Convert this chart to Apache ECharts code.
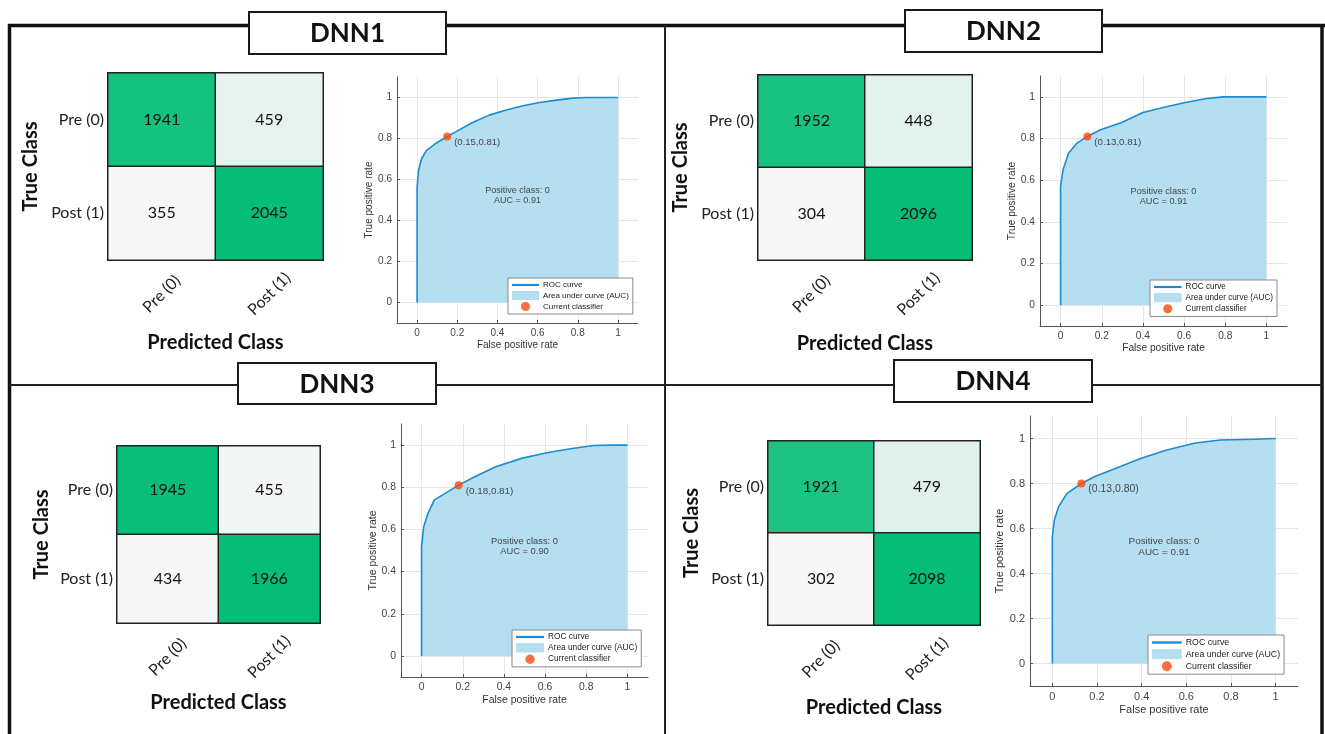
<!DOCTYPE html>
<html>
<head>
<meta charset="utf-8">
<script src="https://cdn.jsdelivr.net/npm/echarts@6/dist/echarts.min.js"></script>
<style>
html, body { margin: 0; padding: 0; background: #fff; }
#main { width: 1325px; height: 734px; }
</style>
</head>
<body>
<div id="main"></div>
<script>
const models = ['DNN1', 'DNN2', 'DNN3', 'DNN4'];
const classNames = ['Pre (0)', 'Post (1)'];

// confusion matrices: rows = true class, cols = predicted class
const cmDNN1 = [[1941, 459], [355, 2045]];
const cmDNN2 = [[1952, 448], [304, 2096]];
const cmDNN3 = [[1945, 455], [434, 1966]];
const cmDNN4 = [[1921, 479], [302, 2098]];

// ROC curves
const fprDNN1 = [0, 0, 0.007, 0.022, 0.046, 0.088, 0.15, 0.196, 0.279, 0.36, 0.444, 0.527, 0.61, 0.693, 0.776, 0.842, 1];
const tprDNN1 = [0, 0.563, 0.644, 0.70, 0.741, 0.773, 0.81, 0.835, 0.879, 0.914, 0.939, 0.96, 0.976, 0.987, 0.997, 1, 1];
const fprDNN2 = [0, 0, 0.012, 0.039, 0.08, 0.13, 0.194, 0.297, 0.4, 0.503, 0.606, 0.71, 0.79, 1];
const tprDNN2 = [0, 0.57, 0.65, 0.73, 0.778, 0.81, 0.842, 0.877, 0.925, 0.95, 0.973, 0.992, 1, 1];
const fprDNN3 = [0, 0, 0.01, 0.031, 0.062, 0.113, 0.18, 0.258, 0.36, 0.485, 0.608, 0.732, 0.835, 0.918, 1];
const tprDNN3 = [0, 0.518, 0.613, 0.676, 0.74, 0.77, 0.81, 0.85, 0.897, 0.937, 0.964, 0.984, 0.998, 1, 1];
const fprDNN4 = [0, 0, 0.009, 0.028, 0.066, 0.13, 0.188, 0.282, 0.395, 0.508, 0.64, 0.753, 0.904, 1];
const tprDNN4 = [0, 0.563, 0.638, 0.697, 0.756, 0.80, 0.83, 0.867, 0.911, 0.948, 0.98, 0.993, 0.997, 1];

// current classifier points
const opDNN1 = [0.15, 0.81];
const opDNN2 = [0.13, 0.81];
const opDNN3 = [0.18, 0.81];
const opDNN4 = [0.13, 0.80];

const aucValues = [0.91, 0.91, 0.90, 0.91];
const positiveClass = 0;
const rocTicks = [0, 0.2, 0.4, 0.6, 0.8, 1];
const notePos = [0.5, 0.52];

const cms = [cmDNN1, cmDNN2, cmDNN3, cmDNN4];
const fprs = [fprDNN1, fprDNN2, fprDNN3, fprDNN4];
const tprs = [tprDNN1, tprDNN2, tprDNN3, tprDNN4];
const ops = [opDNN1, opDNN2, opDNN3, opDNN4];

// panel placement (pixels)
const layout = [
    { box: [249, 12, 197, 42], cm: [108, 73, 215, 187], cmGap: [67, 73], roc: [397, 77, 241, 246], legend: [508, 278], fs: 1 },
    { box: [905, 10, 197, 42], cm: [758, 75, 214, 185], cmGap: [67, 74], roc: [1040, 76, 247, 250], legend: [1150, 280], fs: 1.02 },
    { box: [238, 363, 198, 41], cm: [117, 446, 203, 177], cmGap: [65, 70], roc: [401, 424, 247, 253], legend: [512, 630], fs: 1.04 },
    { box: [894, 360, 198, 42], cm: [768, 441, 212, 184], cmGap: [66, 73], roc: [1030, 416, 268, 270], legend: [1148, 635], fs: 1.1 }
];

const cmFont = 'Lato, "Open Sans", sans-serif';
const rocFont = '"Liberation Sans", Arial, sans-serif';
const lineColor = '#1a8ccf';
const areaColor = '#b5def1';
const dotColor = '#fa4a0c';

let grid = [], xAxis = [], yAxis = [], series = [], visualMap = [], legend = [];
let graphic = [
    { type: 'line', shape: { x1: 8, y1: 25.5, x2: 1325, y2: 25.5 }, style: { stroke: '#111', lineWidth: 3.5 }, z: 1 },
    { type: 'line', shape: { x1: 9.5, y1: 24, x2: 9.5, y2: 734 }, style: { stroke: '#111', lineWidth: 3.5 }, z: 1 },
    { type: 'line', shape: { x1: 1322, y1: 24, x2: 1322, y2: 734 }, style: { stroke: '#111', lineWidth: 3.5 }, z: 1 },
    { type: 'line', shape: { x1: 665, y1: 25, x2: 665, y2: 734 }, style: { stroke: '#222', lineWidth: 2 }, z: 1 },
    { type: 'line', shape: { x1: 9, y1: 385, x2: 1322, y2: 385 }, style: { stroke: '#222', lineWidth: 2 }, z: 1 }
];

models.forEach((name, i) => {
    const L = layout[i];
    const s = L.fs;

    // title box
    graphic.push({
        type: 'rect', z: 10,
        shape: { x: L.box[0], y: L.box[1], width: L.box[2], height: L.box[3] },
        style: { fill: '#fff', stroke: '#1a1a1a', lineWidth: 2 }
    });
    graphic.push({
        type: 'text', z: 11,
        x: L.box[0] + L.box[2] / 2, y: L.box[1] + L.box[3] / 2 + 1,
        style: { text: name, font: 'bold 26px ' + cmFont, fill: '#111', align: 'center', verticalAlign: 'middle' }
    });

    // confusion matrix
    grid.push({ left: L.cm[0], top: L.cm[1], width: L.cm[2], height: L.cm[3] });
    const gCm = grid.length - 1;
    xAxis.push({
        type: 'category', gridIndex: gCm, data: classNames,
        name: 'Predicted Class', nameLocation: 'middle', nameGap: L.cmGap[1],
        nameTextStyle: { fontFamily: cmFont, fontWeight: 'bold', fontSize: 20, color: '#111' },
        axisLine: { show: false }, axisTick: { show: false }, splitLine: { show: false },
        axisLabel: { rotate: 45, align: 'center', verticalAlign: 'middle', margin: 34, fontFamily: cmFont, fontSize: 16, color: '#222' }
    });
    yAxis.push({
        type: 'category', gridIndex: gCm, data: classNames, inverse: true,
        name: 'True Class', nameLocation: 'middle', nameGap: L.cmGap[0], nameRotate: 90,
        nameTextStyle: { fontFamily: cmFont, fontWeight: 'bold', fontSize: 20, color: '#111' },
        axisLine: { show: false }, axisTick: { show: false }, splitLine: { show: false },
        axisLabel: { margin: 4, fontFamily: cmFont, fontSize: 16, color: '#222' }
    });
    const cells = [];
    cms[i].forEach((row, r) => row.forEach((v, c) => cells.push([c, r, v])));
    const flat = cms[i].flat();
    series.push({
        type: 'heatmap', xAxisIndex: gCm, yAxisIndex: gCm, data: cells,
        itemStyle: { borderColor: '#222', borderWidth: 1.5 },
        label: { show: true, fontFamily: cmFont, fontSize: 16, color: '#111', formatter: p => p.value[2] },
        emphasis: { disabled: true }
    });
    visualMap.push({
        type: 'continuous', show: false, seriesIndex: series.length - 1, dimension: 2,
        min: Math.min(...flat), max: Math.max(...flat),
        inRange: { color: ['#f7f7f7', '#06bd77'] }
    });

    // ROC curve
    grid.push({ left: L.roc[0], top: L.roc[1], width: L.roc[2], height: L.roc[3] });
    const gRoc = grid.length - 1;
    const axisCommon = {
        type: 'value', gridIndex: gRoc, min: -0.1, max: 1.1,
        nameLocation: 'middle',
        nameTextStyle: { fontFamily: rocFont, fontSize: 10 * s, color: '#333' },
        axisLine: { onZero: false, lineStyle: { color: '#555', width: 1 } },
        axisTick: { inside: true, length: 3, customValues: rocTicks, lineStyle: { color: '#555' } },
        axisLabel: { customValues: rocTicks, margin: 5, fontFamily: rocFont, fontSize: 10 * s, color: '#444',
            formatter: v => String(+v.toFixed(1)) },
        splitLine: { show: true, lineStyle: { color: '#e6e6e6', width: 1 } }
    };
    xAxis.push(Object.assign({}, axisCommon, { name: 'False positive rate', nameGap: 17 * s }));
    yAxis.push(Object.assign({}, axisCommon, { name: 'True positive rate', nameGap: 20 * s }));

    const pts = fprs[i].map((x, k) => [x, tprs[i][k]]);
    series.push({
        name: 'Area under curve (AUC)', type: 'line', xAxisIndex: gRoc, yAxisIndex: gRoc,
        data: pts, symbol: 'none', color: areaColor,
        lineStyle: { width: 0 }, areaStyle: { color: areaColor, opacity: 1 },
        silent: true, z: 2
    });
    series.push({
        name: 'ROC curve', type: 'line', xAxisIndex: gRoc, yAxisIndex: gRoc,
        data: pts, symbol: 'none', color: lineColor,
        lineStyle: { color: lineColor, width: 1.6, join: 'round' }, silent: true, z: 3
    });
    series.push({
        name: 'Current classifier', type: 'scatter', xAxisIndex: gRoc, yAxisIndex: gRoc,
        data: [ops[i]], symbolSize: 8, color: dotColor, z: 4,
        label: {
            show: true, position: 'right', distance: 3, offset: [0, 6],
            fontFamily: rocFont, fontSize: 9.5 * s, color: '#222',
            formatter: p => '(' + p.value[0].toFixed(2) + ',' + p.value[1].toFixed(2) + ')'
        }
    });
    series.push({
        type: 'scatter', xAxisIndex: gRoc, yAxisIndex: gRoc,
        data: [notePos], symbolSize: 1, itemStyle: { color: 'transparent' }, silent: true, z: 5,
        label: {
            show: true, position: 'inside', fontFamily: rocFont, fontSize: 9 * s, lineHeight: 10 * s,
            color: '#222', align: 'center',
            formatter: () => 'Positive class: ' + positiveClass + '\nAUC = ' + aucValues[i].toFixed(2)
        }
    });

    legend.push({
        left: L.legend[0], top: L.legend[1], orient: 'vertical',
        selectedMode: false, backgroundColor: '#fff', borderColor: '#8a8a8a', borderWidth: 1,
        padding: [3, 4, 3, 4], itemGap: 2 * s, itemWidth: 27 * s, itemHeight: 9 * s,
        textStyle: { fontFamily: rocFont, fontSize: 8 * s, color: '#222', padding: [0, 0, 0, -1] },
        data: [
            { name: 'ROC curve', icon: 'path://M0,0H28V2.2H0Z' },
            { name: 'Area under curve (AUC)', icon: 'rect' },
            { name: 'Current classifier', icon: 'circle' }
        ]
    });
});

const chart = echarts.init(document.getElementById('main'));
chart.setOption({
    animation: false,
    backgroundColor: '#fff',
    grid, xAxis, yAxis, series, visualMap, legend, graphic
});
</script>
</body>
</html>
